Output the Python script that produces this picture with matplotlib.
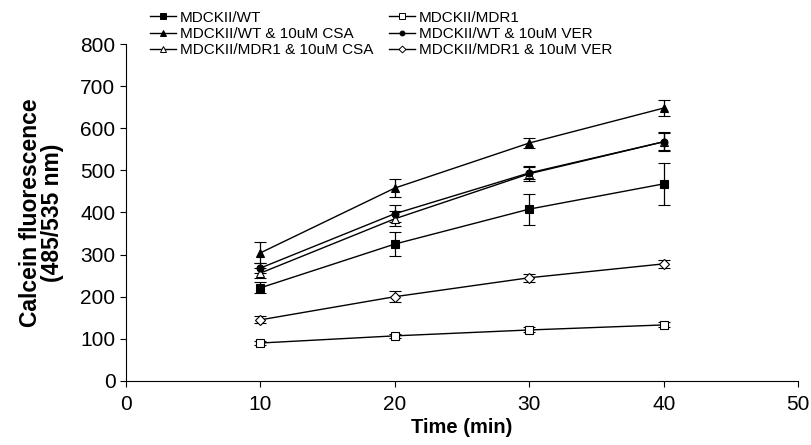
import matplotlib
matplotlib.use("Agg")
import matplotlib.pyplot as plt
from matplotlib.lines import Line2D

plt.rcParams["font.family"] = ["Liberation Sans", "DejaVu Sans"]

times = [10, 20, 30, 40]

wt = [221, 325, 408, 468]
wt_err = [13, 28, 37, 50]
mdr1 = [90, 107, 121, 133]
mdr1_err = [4, 5, 6, 6]
wt_csa = [304, 458, 565, 648]
wt_csa_err = [25, 22, 13, 18]
wt_ver = [268, 397, 494, 568]
wt_ver_err = [12, 20, 15, 20]
mdr1_csa = [256, 385, 492, 568]
mdr1_csa_err = [12, 18, 18, 22]
mdr1_ver = [145, 200, 245, 278]
mdr1_ver_err = [8, 13, 9, 10]

series = [
    ("MDCKII/WT", wt, wt_err, "s", "black"),
    ("MDCKII/WT & 10uM CSA", wt_csa, wt_csa_err, "^", "black"),
    ("MDCKII/MDR1 & 10uM CSA", mdr1_csa, mdr1_csa_err, "^", "white"),
    ("MDCKII/MDR1", mdr1, mdr1_err, "s", "white"),
    ("MDCKII/WT & 10uM VER", wt_ver, wt_ver_err, "o", "black"),
    ("MDCKII/MDR1 & 10uM VER", mdr1_ver, mdr1_ver_err, "D", "white"),
]

fig = plt.figure(figsize=(8.12, 4.45), dpi=100)
ax = fig.add_axes([0.155, 0.144, 0.828, 0.757])

handles = []
for label, vals, err, mk, fc in series:
    ms = 5 if mk in ("D", "o") else 6
    ax.errorbar(times, vals, yerr=err, color="black", lw=1.0,
                marker=mk, markersize=ms, markerfacecolor=fc,
                markeredgecolor="black", markeredgewidth=0.8,
                capsize=4, elinewidth=0.9, capthick=0.9)
    handles.append(Line2D([], [], color="black", lw=1.0, marker=mk,
                          markersize=ms * 0.7, markerfacecolor=fc,
                          markeredgecolor="black", markeredgewidth=0.7,
                          label=label))

ax.set_xlim(0, 50)
ax.set_ylim(0, 800)
ax.set_xticks(range(0, 51, 10))
ax.set_yticks(range(0, 801, 100))
ax.spines["top"].set_visible(False)
ax.spines["right"].set_visible(False)
ax.tick_params(labelsize=15, direction="out", length=4, width=0.8)
ax.tick_params(axis="x", pad=6)
ax.set_xlabel("Time (min)", fontsize=14.5, fontweight="bold", labelpad=3)
ax.set_ylabel("Calcein fluorescence\n(485/535 nm)", fontsize=16.5,
              fontweight="bold", labelpad=12, linespacing=0.92)

fig.legend(handles=handles, loc="upper left", bbox_to_anchor=(0.172, 1.0),
           ncol=2, frameon=False, fontsize=11, handlelength=1.7,
           handletextpad=0.25, columnspacing=1.0, labelspacing=0.15,
           borderpad=0.2)

fig.savefig("out.png", dpi=100)
